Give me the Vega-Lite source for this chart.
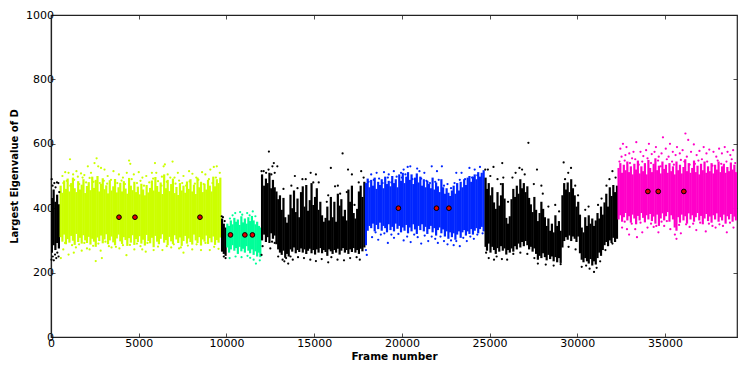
{"$schema":"https://vega.github.io/schema/vega-lite/v6.json","width":686,"height":322,"autosize":"none","padding":{"left":51,"top":15,"right":10,"bottom":37},"background":"white","view":{"stroke":"#222","strokeWidth":1.2},
"datasets":{"core":[
{"f":50,"lo":262,"hi":432,"s":"K"},{"f":150,"lo":285,"hi":458,"s":"K"},{"f":250,"lo":270,"hi":420,"s":"K"},{"f":350,"lo":292,"hi":442,"s":"K"},{"f":450,"lo":275,"hi":412,"s":"K"},
{"f":550,"lo":310,"hi":470,"s":"L"},{"f":650,"lo":296,"hi":448,"s":"L"},{"f":750,"lo":318,"hi":486,"s":"L"},{"f":850,"lo":288,"hi":460,"s":"L"},{"f":950,"lo":304,"hi":492,"s":"L"},{"f":1050,"lo":293,"hi":452,"s":"L"},{"f":1150,"lo":314,"hi":478,"s":"L"},{"f":1250,"lo":299,"hi":495,"s":"L"},{"f":1350,"lo":286,"hi":462,"s":"L"},{"f":1450,"lo":320,"hi":450,"s":"L"},{"f":1550,"lo":295,"hi":484,"s":"L"},{"f":1650,"lo":308,"hi":458,"s":"L"},{"f":1750,"lo":290,"hi":473,"s":"L"},{"f":1850,"lo":316,"hi":490,"s":"L"},{"f":1950,"lo":300,"hi":447,"s":"L"},{"f":2050,"lo":292,"hi":469,"s":"L"},{"f":2150,"lo":311,"hi":481,"s":"L"},{"f":2250,"lo":287,"hi":456,"s":"L"},{"f":2350,"lo":305,"hi":498,"s":"L"},{"f":2450,"lo":296,"hi":463,"s":"L"},{"f":2550,"lo":280,"hi":488,"s":"L"},{"f":2650,"lo":309,"hi":500,"s":"L"},{"f":2750,"lo":298,"hi":452,"s":"L"},{"f":2850,"lo":315,"hi":476,"s":"L"},{"f":2950,"lo":291,"hi":493,"s":"L"},{"f":3050,"lo":303,"hi":459,"s":"L"},{"f":3150,"lo":319,"hi":471,"s":"L"},{"f":3250,"lo":288,"hi":446,"s":"L"},{"f":3350,"lo":300,"hi":487,"s":"L"},{"f":3450,"lo":312,"hi":455,"s":"L"},{"f":3550,"lo":294,"hi":468,"s":"L"},{"f":3650,"lo":285,"hi":491,"s":"L"},{"f":3750,"lo":306,"hi":449,"s":"L"},{"f":3850,"lo":318,"hi":465,"s":"L"},{"f":3950,"lo":297,"hi":479,"s":"L"},{"f":4050,"lo":289,"hi":452,"s":"L"},{"f":4150,"lo":310,"hi":484,"s":"L"},{"f":4250,"lo":301,"hi":461,"s":"L"},{"f":4350,"lo":283,"hi":445,"s":"L"},{"f":4450,"lo":307,"hi":494,"s":"L"},{"f":4550,"lo":293,"hi":470,"s":"L"},{"f":4650,"lo":316,"hi":456,"s":"L"},{"f":4750,"lo":286,"hi":482,"s":"L"},{"f":4850,"lo":304,"hi":450,"s":"L"},{"f":4950,"lo":295,"hi":467,"s":"L"},{"f":5050,"lo":313,"hi":443,"s":"L"},{"f":5150,"lo":290,"hi":476,"s":"L"},{"f":5250,"lo":302,"hi":458,"s":"L"},{"f":5350,"lo":284,"hi":440,"s":"L"},{"f":5450,"lo":317,"hi":472,"s":"L"},{"f":5550,"lo":298,"hi":449,"s":"L"},{"f":5650,"lo":291,"hi":463,"s":"L"},{"f":5750,"lo":308,"hi":486,"s":"L"},{"f":5850,"lo":279,"hi":455,"s":"L"},{"f":5950,"lo":314,"hi":497,"s":"L"},{"f":6050,"lo":296,"hi":469,"s":"L"},{"f":6150,"lo":288,"hi":451,"s":"L"},{"f":6250,"lo":305,"hi":480,"s":"L"},{"f":6350,"lo":319,"hi":444,"s":"L"},{"f":6450,"lo":293,"hi":505,"s":"L"},{"f":6550,"lo":301,"hi":462,"s":"L"},{"f":6650,"lo":285,"hi":488,"s":"L"},{"f":6750,"lo":311,"hi":453,"s":"L"},{"f":6850,"lo":297,"hi":475,"s":"L"},{"f":6950,"lo":289,"hi":492,"s":"L"},{"f":7050,"lo":316,"hi":447,"s":"L"},{"f":7150,"lo":303,"hi":466,"s":"L"},{"f":7250,"lo":292,"hi":441,"s":"L"},{"f":7350,"lo":309,"hi":478,"s":"L"},{"f":7450,"lo":283,"hi":455,"s":"L"},{"f":7550,"lo":298,"hi":470,"s":"L"},{"f":7650,"lo":314,"hi":448,"s":"L"},{"f":7750,"lo":290,"hi":483,"s":"L"},{"f":7850,"lo":306,"hi":460,"s":"L"},{"f":7950,"lo":295,"hi":490,"s":"L"},{"f":8050,"lo":287,"hi":452,"s":"L"},{"f":8150,"lo":318,"hi":473,"s":"L"},{"f":8250,"lo":300,"hi":444,"s":"L"},{"f":8350,"lo":292,"hi":495,"s":"L"},{"f":8450,"lo":310,"hi":465,"s":"L"},{"f":8550,"lo":284,"hi":482,"s":"L"},{"f":8650,"lo":303,"hi":450,"s":"L"},{"f":8750,"lo":296,"hi":476,"s":"L"},{"f":8850,"lo":315,"hi":458,"s":"L"},{"f":8950,"lo":289,"hi":488,"s":"L"},{"f":9050,"lo":307,"hi":470,"s":"L"},{"f":9150,"lo":294,"hi":452,"s":"L"},{"f":9250,"lo":312,"hi":498,"s":"L"},{"f":9350,"lo":286,"hi":468,"s":"L"},{"f":9450,"lo":301,"hi":490,"s":"L"},{"f":9550,"lo":293,"hi":478,"s":"L"},{"f":9650,"lo":309,"hi":495,"s":"L"},
{"f":9750,"lo":265,"hi":368,"s":"K"},{"f":9850,"lo":258,"hi":352,"s":"K"},{"f":9950,"lo":252,"hi":340,"s":"K"},
{"f":10050,"lo":278,"hi":352,"s":"G"},{"f":10150,"lo":262,"hi":345,"s":"G"},{"f":10250,"lo":272,"hi":362,"s":"G"},{"f":10350,"lo":285,"hi":350,"s":"G"},{"f":10450,"lo":268,"hi":370,"s":"G"},{"f":10550,"lo":276,"hi":358,"s":"G"},{"f":10650,"lo":258,"hi":365,"s":"G"},{"f":10750,"lo":280,"hi":348,"s":"G"},{"f":10850,"lo":266,"hi":375,"s":"G"},{"f":10950,"lo":274,"hi":356,"s":"G"},{"f":11050,"lo":262,"hi":368,"s":"G"},{"f":11150,"lo":282,"hi":352,"s":"G"},{"f":11250,"lo":268,"hi":372,"s":"G"},{"f":11350,"lo":260,"hi":360,"s":"G"},{"f":11450,"lo":272,"hi":376,"s":"G"},{"f":11550,"lo":255,"hi":362,"s":"G"},{"f":11650,"lo":266,"hi":350,"s":"G"},{"f":11750,"lo":250,"hi":358,"s":"G"},{"f":11850,"lo":262,"hi":345,"s":"G"},{"f":11930,"lo":248,"hi":340,"s":"G"},
{"f":12030,"lo":300,"hi":505,"s":"K"},{"f":12150,"lo":318,"hi":470,"s":"K"},{"f":12250,"lo":295,"hi":492,"s":"K"},{"f":12350,"lo":310,"hi":478,"s":"K"},{"f":12450,"lo":292,"hi":510,"s":"K"},{"f":12550,"lo":322,"hi":462,"s":"K"},{"f":12650,"lo":305,"hi":488,"s":"K"},{"f":12750,"lo":315,"hi":465,"s":"K"},{"f":12850,"lo":288,"hi":452,"s":"K"},{"f":12950,"lo":272,"hi":428,"s":"K"},{"f":13050,"lo":262,"hi":440,"s":"K"},{"f":13150,"lo":255,"hi":395,"s":"K"},{"f":13250,"lo":268,"hi":432,"s":"K"},{"f":13350,"lo":246,"hi":372,"s":"K"},{"f":13450,"lo":258,"hi":355,"s":"K"},{"f":13550,"lo":250,"hi":380,"s":"K"},{"f":13650,"lo":272,"hi":442,"s":"K"},{"f":13750,"lo":265,"hi":400,"s":"K"},{"f":13850,"lo":278,"hi":455,"s":"K"},{"f":13950,"lo":260,"hi":388,"s":"K"},{"f":14050,"lo":270,"hi":430,"s":"K"},{"f":14150,"lo":264,"hi":372,"s":"K"},{"f":14250,"lo":275,"hi":450,"s":"K"},{"f":14350,"lo":262,"hi":468,"s":"K"},{"f":14450,"lo":272,"hi":405,"s":"K"},{"f":14550,"lo":258,"hi":472,"s":"K"},{"f":14650,"lo":268,"hi":392,"s":"K"},{"f":14750,"lo":274,"hi":425,"s":"K"},{"f":14850,"lo":260,"hi":478,"s":"K"},{"f":14950,"lo":270,"hi":410,"s":"K"},{"f":15050,"lo":256,"hi":435,"s":"K"},{"f":15150,"lo":272,"hi":462,"s":"K"},{"f":15250,"lo":262,"hi":395,"s":"K"},{"f":15350,"lo":276,"hi":420,"s":"K"},{"f":15450,"lo":260,"hi":378,"s":"K"},{"f":15550,"lo":270,"hi":358,"s":"K"},{"f":15650,"lo":264,"hi":370,"s":"K"},{"f":15750,"lo":252,"hi":405,"s":"K"},{"f":15850,"lo":272,"hi":362,"s":"K"},{"f":15950,"lo":266,"hi":435,"s":"K"},{"f":16050,"lo":258,"hi":372,"s":"K"},{"f":16150,"lo":270,"hi":420,"s":"K"},{"f":16250,"lo":262,"hi":358,"s":"K"},{"f":16350,"lo":274,"hi":445,"s":"K"},{"f":16450,"lo":256,"hi":408,"s":"K"},{"f":16550,"lo":268,"hi":428,"s":"K"},{"f":16650,"lo":276,"hi":375,"s":"K"},{"f":16750,"lo":262,"hi":395,"s":"K"},{"f":16850,"lo":270,"hi":362,"s":"K"},{"f":16950,"lo":258,"hi":458,"s":"K"},{"f":17050,"lo":272,"hi":420,"s":"K"},{"f":17150,"lo":264,"hi":470,"s":"K"},{"f":17250,"lo":276,"hi":385,"s":"K"},{"f":17350,"lo":262,"hi":368,"s":"K"},{"f":17450,"lo":270,"hi":398,"s":"K"},{"f":17550,"lo":258,"hi":452,"s":"K"},{"f":17650,"lo":274,"hi":470,"s":"K"},{"f":17750,"lo":266,"hi":435,"s":"K"},{"f":17860,"lo":278,"hi":482,"s":"K"},
{"f":17950,"lo":285,"hi":478,"s":"B"},{"f":18050,"lo":330,"hi":492,"s":"B"},{"f":18150,"lo":345,"hi":465,"s":"B"},{"f":18250,"lo":338,"hi":488,"s":"B"},{"f":18350,"lo":352,"hi":470,"s":"B"},{"f":18450,"lo":328,"hi":495,"s":"B"},{"f":18550,"lo":348,"hi":460,"s":"B"},{"f":18650,"lo":335,"hi":482,"s":"B"},{"f":18750,"lo":355,"hi":472,"s":"B"},{"f":18850,"lo":330,"hi":490,"s":"B"},{"f":18950,"lo":345,"hi":462,"s":"B"},{"f":19050,"lo":338,"hi":498,"s":"B"},{"f":19150,"lo":325,"hi":475,"s":"B"},{"f":19250,"lo":350,"hi":485,"s":"B"},{"f":19350,"lo":332,"hi":468,"s":"B"},{"f":19450,"lo":342,"hi":500,"s":"B"},{"f":19550,"lo":328,"hi":478,"s":"B"},{"f":19650,"lo":352,"hi":490,"s":"B"},{"f":19750,"lo":336,"hi":465,"s":"B"},{"f":19850,"lo":345,"hi":505,"s":"B"},{"f":19950,"lo":325,"hi":485,"s":"B"},{"f":20050,"lo":340,"hi":510,"s":"B"},{"f":20150,"lo":330,"hi":478,"s":"B"},{"f":20250,"lo":348,"hi":498,"s":"B"},{"f":20350,"lo":322,"hi":512,"s":"B"},{"f":20450,"lo":340,"hi":488,"s":"B"},{"f":20550,"lo":328,"hi":505,"s":"B"},{"f":20650,"lo":350,"hi":475,"s":"B"},{"f":20750,"lo":334,"hi":495,"s":"B"},{"f":20850,"lo":320,"hi":508,"s":"B"},{"f":20950,"lo":345,"hi":480,"s":"B"},{"f":21050,"lo":332,"hi":498,"s":"B"},{"f":21150,"lo":350,"hi":470,"s":"B"},{"f":21250,"lo":328,"hi":490,"s":"B"},{"f":21350,"lo":342,"hi":465,"s":"B"},{"f":21450,"lo":320,"hi":485,"s":"B"},{"f":21550,"lo":335,"hi":475,"s":"B"},{"f":21650,"lo":345,"hi":462,"s":"B"},{"f":21750,"lo":325,"hi":495,"s":"B"},{"f":21850,"lo":338,"hi":458,"s":"B"},{"f":21950,"lo":315,"hi":480,"s":"B"},{"f":22050,"lo":332,"hi":468,"s":"B"},{"f":22150,"lo":340,"hi":450,"s":"B"},{"f":22250,"lo":322,"hi":490,"s":"B"},{"f":22350,"lo":334,"hi":465,"s":"B"},{"f":22450,"lo":312,"hi":445,"s":"B"},{"f":22550,"lo":328,"hi":462,"s":"B"},{"f":22650,"lo":305,"hi":448,"s":"B"},{"f":22750,"lo":325,"hi":438,"s":"B"},{"f":22850,"lo":310,"hi":455,"s":"B"},{"f":22950,"lo":322,"hi":470,"s":"B"},{"f":23050,"lo":302,"hi":445,"s":"B"},{"f":23150,"lo":318,"hi":478,"s":"B"},{"f":23250,"lo":328,"hi":455,"s":"B"},{"f":23350,"lo":308,"hi":482,"s":"B"},{"f":23450,"lo":325,"hi":465,"s":"B"},{"f":23550,"lo":332,"hi":490,"s":"B"},{"f":23650,"lo":315,"hi":472,"s":"B"},{"f":23750,"lo":328,"hi":495,"s":"B"},{"f":23850,"lo":320,"hi":500,"s":"B"},{"f":23950,"lo":335,"hi":482,"s":"B"},{"f":24050,"lo":318,"hi":498,"s":"B"},{"f":24150,"lo":330,"hi":505,"s":"B"},{"f":24250,"lo":338,"hi":490,"s":"B"},{"f":24350,"lo":322,"hi":512,"s":"B"},{"f":24450,"lo":335,"hi":498,"s":"B"},{"f":24550,"lo":342,"hi":510,"s":"B"},{"f":24660,"lo":328,"hi":518,"s":"B"},
{"f":24770,"lo":280,"hi":495,"s":"K"},{"f":24850,"lo":268,"hi":460,"s":"K"},{"f":24950,"lo":290,"hi":478,"s":"K"},{"f":25050,"lo":262,"hi":440,"s":"K"},{"f":25150,"lo":280,"hi":465,"s":"K"},{"f":25250,"lo":270,"hi":418,"s":"K"},{"f":25350,"lo":258,"hi":398,"s":"K"},{"f":25450,"lo":276,"hi":450,"s":"K"},{"f":25550,"lo":265,"hi":408,"s":"K"},{"f":25650,"lo":282,"hi":440,"s":"K"},{"f":25750,"lo":268,"hi":478,"s":"K"},{"f":25850,"lo":275,"hi":430,"s":"K"},{"f":25950,"lo":256,"hi":370,"s":"K"},{"f":26050,"lo":270,"hi":352,"s":"K"},{"f":26150,"lo":262,"hi":375,"s":"K"},{"f":26250,"lo":275,"hi":428,"s":"K"},{"f":26350,"lo":265,"hi":460,"s":"K"},{"f":26450,"lo":282,"hi":435,"s":"K"},{"f":26550,"lo":272,"hi":470,"s":"K"},{"f":26650,"lo":290,"hi":445,"s":"K"},{"f":26750,"lo":278,"hi":490,"s":"K"},{"f":26850,"lo":295,"hi":462,"s":"K"},{"f":26950,"lo":282,"hi":478,"s":"K"},{"f":27050,"lo":298,"hi":450,"s":"K"},{"f":27150,"lo":285,"hi":468,"s":"K"},{"f":27250,"lo":272,"hi":432,"s":"K"},{"f":27350,"lo":280,"hi":412,"s":"K"},{"f":27450,"lo":265,"hi":388,"s":"K"},{"f":27550,"lo":275,"hi":435,"s":"K"},{"f":27650,"lo":258,"hi":395,"s":"K"},{"f":27750,"lo":240,"hi":360,"s":"K"},{"f":27850,"lo":252,"hi":385,"s":"K"},{"f":27950,"lo":245,"hi":420,"s":"K"},{"f":28050,"lo":260,"hi":398,"s":"K"},{"f":28150,"lo":248,"hi":372,"s":"K"},{"f":28250,"lo":238,"hi":345,"s":"K"},{"f":28350,"lo":255,"hi":368,"s":"K"},{"f":28450,"lo":242,"hi":330,"s":"K"},{"f":28550,"lo":250,"hi":352,"s":"K"},{"f":28650,"lo":235,"hi":325,"s":"K"},{"f":28750,"lo":248,"hi":378,"s":"K"},{"f":28850,"lo":232,"hi":345,"s":"K"},{"f":28950,"lo":245,"hi":360,"s":"K"},{"f":29050,"lo":230,"hi":330,"s":"K"},{"f":29150,"lo":278,"hi":440,"s":"K"},{"f":29250,"lo":298,"hi":478,"s":"K"},{"f":29350,"lo":310,"hi":458,"s":"K"},{"f":29450,"lo":302,"hi":480,"s":"K"},{"f":29550,"lo":315,"hi":450,"s":"K"},{"f":29650,"lo":298,"hi":490,"s":"K"},{"f":29750,"lo":312,"hi":462,"s":"K"},{"f":29850,"lo":305,"hi":440,"s":"K"},{"f":29950,"lo":295,"hi":405,"s":"K"},{"f":30050,"lo":312,"hi":420,"s":"K"},{"f":30150,"lo":260,"hi":380,"s":"K"},{"f":30250,"lo":240,"hi":340,"s":"K"},{"f":30350,"lo":232,"hi":325,"s":"K"},{"f":30450,"lo":245,"hi":372,"s":"K"},{"f":30550,"lo":235,"hi":345,"s":"K"},{"f":30650,"lo":228,"hi":378,"s":"K"},{"f":30750,"lo":242,"hi":352,"s":"K"},{"f":30850,"lo":222,"hi":368,"s":"K"},{"f":30950,"lo":235,"hi":345,"s":"K"},{"f":31050,"lo":225,"hi":362,"s":"K"},{"f":31150,"lo":245,"hi":385,"s":"K"},{"f":31250,"lo":262,"hi":368,"s":"K"},{"f":31350,"lo":252,"hi":405,"s":"K"},{"f":31450,"lo":270,"hi":380,"s":"K"},{"f":31550,"lo":285,"hi":418,"s":"K"},{"f":31650,"lo":295,"hi":445,"s":"K"},{"f":31750,"lo":282,"hi":405,"s":"K"},{"f":31850,"lo":300,"hi":465,"s":"K"},{"f":31950,"lo":292,"hi":438,"s":"K"},{"f":32050,"lo":308,"hi":472,"s":"K"},{"f":32150,"lo":295,"hi":450,"s":"K"},{"f":32260,"lo":305,"hi":470,"s":"K"},
{"f":32350,"lo":365,"hi":525,"s":"M"},{"f":32450,"lo":378,"hi":540,"s":"M"},{"f":32550,"lo":358,"hi":510,"s":"M"},{"f":32650,"lo":372,"hi":535,"s":"M"},{"f":32750,"lo":385,"hi":518,"s":"M"},{"f":32850,"lo":362,"hi":545,"s":"M"},{"f":32950,"lo":375,"hi":512,"s":"M"},{"f":33050,"lo":355,"hi":530,"s":"M"},{"f":33150,"lo":380,"hi":505,"s":"M"},{"f":33250,"lo":368,"hi":538,"s":"M"},{"f":33350,"lo":350,"hi":520,"s":"M"},{"f":33450,"lo":376,"hi":548,"s":"M"},{"f":33550,"lo":362,"hi":508,"s":"M"},{"f":33650,"lo":385,"hi":530,"s":"M"},{"f":33750,"lo":370,"hi":515,"s":"M"},{"f":33850,"lo":356,"hi":540,"s":"M"},{"f":33950,"lo":378,"hi":505,"s":"M"},{"f":34050,"lo":365,"hi":550,"s":"M"},{"f":34150,"lo":382,"hi":525,"s":"M"},{"f":34250,"lo":360,"hi":512,"s":"M"},{"f":34350,"lo":374,"hi":538,"s":"M"},{"f":34450,"lo":352,"hi":555,"s":"M"},{"f":34550,"lo":380,"hi":518,"s":"M"},{"f":34650,"lo":345,"hi":532,"s":"M"},{"f":34750,"lo":368,"hi":508,"s":"M"},{"f":34850,"lo":384,"hi":545,"s":"M"},{"f":34950,"lo":362,"hi":522,"s":"M"},{"f":35050,"lo":375,"hi":535,"s":"M"},{"f":35150,"lo":388,"hi":510,"s":"M"},{"f":35250,"lo":358,"hi":540,"s":"M"},{"f":35350,"lo":378,"hi":515,"s":"M"},{"f":35450,"lo":365,"hi":530,"s":"M"},{"f":35550,"lo":340,"hi":505,"s":"M"},{"f":35650,"lo":330,"hi":545,"s":"M"},{"f":35750,"lo":372,"hi":518,"s":"M"},{"f":35850,"lo":355,"hi":535,"s":"M"},{"f":35950,"lo":380,"hi":508,"s":"M"},{"f":36050,"lo":362,"hi":528,"s":"M"},{"f":36150,"lo":375,"hi":552,"s":"M"},{"f":36250,"lo":352,"hi":515,"s":"M"},{"f":36350,"lo":384,"hi":540,"s":"M"},{"f":36450,"lo":365,"hi":510,"s":"M"},{"f":36550,"lo":378,"hi":525,"s":"M"},{"f":36650,"lo":358,"hi":548,"s":"M"},{"f":36750,"lo":372,"hi":512,"s":"M"},{"f":36850,"lo":385,"hi":532,"s":"M"},{"f":36950,"lo":362,"hi":505,"s":"M"},{"f":37050,"lo":376,"hi":538,"s":"M"},{"f":37150,"lo":350,"hi":518,"s":"M"},{"f":37250,"lo":368,"hi":545,"s":"M"},{"f":37350,"lo":382,"hi":510,"s":"M"},{"f":37450,"lo":360,"hi":530,"s":"M"},{"f":37550,"lo":374,"hi":515,"s":"M"},{"f":37650,"lo":355,"hi":540,"s":"M"},{"f":37750,"lo":378,"hi":508,"s":"M"},{"f":37850,"lo":365,"hi":535,"s":"M"},{"f":37950,"lo":384,"hi":520,"s":"M"},{"f":38050,"lo":358,"hi":545,"s":"M"},{"f":38150,"lo":372,"hi":512,"s":"M"},{"f":38250,"lo":362,"hi":530,"s":"M"},{"f":38350,"lo":380,"hi":538,"s":"M"},{"f":38450,"lo":352,"hi":510,"s":"M"},{"f":38550,"lo":375,"hi":528,"s":"M"},{"f":38650,"lo":365,"hi":515,"s":"M"},{"f":38750,"lo":382,"hi":542,"s":"M"},{"f":38850,"lo":358,"hi":520,"s":"M"},{"f":38950,"lo":374,"hi":535,"s":"M"},{"f":39040,"lo":362,"hi":512,"s":"M"}
],
"dots":[
{"f":40,"v":490,"s":"K"},{"f":90,"v":470,"s":"K"},{"f":190,"v":478,"s":"K"},{"f":260,"v":465,"s":"K"},{"f":340,"v":480,"s":"K"},{"f":420,"v":478,"s":"K"},{"f":470,"v":450,"s":"K"},{"f":30,"v":240,"s":"K"},{"f":100,"v":250,"s":"K"},{"f":160,"v":238,"s":"K"},{"f":230,"v":256,"s":"K"},{"f":300,"v":245,"s":"K"},{"f":360,"v":262,"s":"K"},{"f":430,"v":250,"s":"K"},
{"f":650,"v":500,"s":"L"},{"f":810,"v":512,"s":"L"},{"f":1000,"v":510,"s":"L"},{"f":1083,"v":552,"s":"L"},{"f":1260,"v":505,"s":"L"},{"f":1450,"v":515,"s":"L"},{"f":1530,"v":498,"s":"L"},{"f":1710,"v":508,"s":"L"},{"f":1900,"v":503,"s":"L"},{"f":2100,"v":530,"s":"L"},{"f":2280,"v":510,"s":"L"},{"f":2480,"v":540,"s":"L"},{"f":2600,"v":555,"s":"L"},{"f":2690,"v":530,"s":"L"},{"f":2850,"v":525,"s":"L"},{"f":3050,"v":520,"s":"L"},{"f":3230,"v":500,"s":"L"},{"f":3560,"v":515,"s":"L"},{"f":3870,"v":505,"s":"L"},{"f":4100,"v":495,"s":"L"},{"f":4320,"v":510,"s":"L"},{"f":4450,"v":548,"s":"L"},{"f":4520,"v":538,"s":"L"},{"f":4720,"v":505,"s":"L"},{"f":5000,"v":512,"s":"L"},{"f":5210,"v":495,"s":"L"},{"f":5430,"v":500,"s":"L"},{"f":5750,"v":510,"s":"L"},{"f":5926,"v":540,"s":"L"},{"f":6000,"v":510,"s":"L"},{"f":6320,"v":498,"s":"L"},{"f":6420,"v":530,"s":"L"},{"f":6490,"v":536,"s":"L"},{"f":6650,"v":505,"s":"L"},{"f":6930,"v":545,"s":"L"},{"f":7040,"v":495,"s":"L"},{"f":7230,"v":510,"s":"L"},{"f":7550,"v":500,"s":"L"},{"f":7870,"v":515,"s":"L"},{"f":8060,"v":507,"s":"L"},{"f":8280,"v":495,"s":"L"},{"f":8610,"v":512,"s":"L"},{"f":8800,"v":505,"s":"L"},{"f":9080,"v":520,"s":"L"},{"f":9280,"v":528,"s":"L"},{"f":9450,"v":530,"s":"L"},{"f":9620,"v":510,"s":"L"},
{"f":700,"v":478,"s":"L"},{"f":900,"v":485,"s":"L"},{"f":1100,"v":470,"s":"L"},{"f":1320,"v":488,"s":"L"},{"f":1610,"v":475,"s":"L"},{"f":1800,"v":495,"s":"L"},{"f":2000,"v":480,"s":"L"},{"f":2200,"v":494,"s":"L"},{"f":2420,"v":482,"s":"L"},{"f":2780,"v":478,"s":"L"},{"f":3010,"v":485,"s":"L"},{"f":3200,"v":476,"s":"L"},{"f":3420,"v":488,"s":"L"},{"f":3780,"v":478,"s":"L"},{"f":4020,"v":486,"s":"L"},{"f":4220,"v":475,"s":"L"},{"f":4600,"v":490,"s":"L"},{"f":4900,"v":478,"s":"L"},{"f":5100,"v":485,"s":"L"},{"f":5300,"v":470,"s":"L"},{"f":5600,"v":480,"s":"L"},{"f":5820,"v":492,"s":"L"},{"f":6100,"v":484,"s":"L"},{"f":6300,"v":470,"s":"L"},{"f":6600,"v":482,"s":"L"},{"f":6800,"v":495,"s":"L"},{"f":7100,"v":476,"s":"L"},{"f":7300,"v":486,"s":"L"},{"f":7480,"v":478,"s":"L"},{"f":7700,"v":470,"s":"L"},{"f":7900,"v":483,"s":"L"},{"f":8200,"v":476,"s":"L"},{"f":8400,"v":488,"s":"L"},{"f":8700,"v":475,"s":"L"},{"f":9000,"v":490,"s":"L"},{"f":9200,"v":478,"s":"L"},{"f":9400,"v":495,"s":"L"},
{"f":560,"v":245,"s":"L"},{"f":700,"v":272,"s":"L"},{"f":1000,"v":256,"s":"L"},{"f":1300,"v":262,"s":"L"},{"f":1420,"v":278,"s":"L"},{"f":1750,"v":268,"s":"L"},{"f":2050,"v":275,"s":"L"},{"f":2200,"v":272,"s":"L"},{"f":2550,"v":236,"s":"L"},{"f":2830,"v":268,"s":"L"},{"f":2900,"v":245,"s":"L"},{"f":3450,"v":278,"s":"L"},{"f":3900,"v":275,"s":"L"},{"f":4300,"v":254,"s":"L"},{"f":4750,"v":272,"s":"L"},{"f":5200,"v":272,"s":"L"},{"f":5400,"v":265,"s":"L"},{"f":5850,"v":270,"s":"L"},{"f":6350,"v":270,"s":"L"},{"f":6850,"v":278,"s":"L"},{"f":7300,"v":275,"s":"L"},{"f":7550,"v":262,"s":"L"},{"f":8050,"v":272,"s":"L"},{"f":8550,"v":270,"s":"L"},{"f":9050,"v":270,"s":"L"},{"f":9550,"v":274,"s":"L"},
{"f":800,"v":292,"s":"L"},{"f":1200,"v":285,"s":"L"},{"f":1600,"v":288,"s":"L"},{"f":1900,"v":292,"s":"L"},{"f":2400,"v":283,"s":"L"},{"f":2700,"v":290,"s":"L"},{"f":3100,"v":296,"s":"L"},{"f":3300,"v":282,"s":"L"},{"f":3700,"v":280,"s":"L"},{"f":4100,"v":285,"s":"L"},{"f":4500,"v":286,"s":"L"},{"f":4900,"v":290,"s":"L"},{"f":5100,"v":282,"s":"L"},{"f":5500,"v":292,"s":"L"},{"f":6100,"v":281,"s":"L"},{"f":6600,"v":282,"s":"L"},{"f":7000,"v":288,"s":"L"},{"f":7400,"v":278,"s":"L"},{"f":7800,"v":284,"s":"L"},{"f":8300,"v":288,"s":"L"},{"f":8800,"v":292,"s":"L"},{"f":9300,"v":280,"s":"L"},
{"f":9730,"v":375,"s":"K"},{"f":9800,"v":372,"s":"K"},{"f":9900,"v":360,"s":"K"},{"f":9850,"v":250,"s":"K"},{"f":9950,"v":245,"s":"K"},
{"f":10200,"v":368,"s":"G"},{"f":10350,"v":378,"s":"G"},{"f":10500,"v":385,"s":"G"},{"f":10780,"v":388,"s":"G"},{"f":10900,"v":380,"s":"G"},{"f":11180,"v":385,"s":"G"},{"f":11320,"v":378,"s":"G"},{"f":11500,"v":390,"s":"G"},{"f":11650,"v":375,"s":"G"},{"f":10180,"v":245,"s":"G"},{"f":10520,"v":250,"s":"G"},{"f":10860,"v":248,"s":"G"},{"f":11200,"v":252,"s":"G"},{"f":11350,"v":246,"s":"G"},{"f":11550,"v":240,"s":"G"},{"f":11680,"v":228,"s":"G"},{"f":11900,"v":238,"s":"G"},
{"f":12000,"v":515,"s":"K"},{"f":12120,"v":515,"s":"K"},{"f":12260,"v":510,"s":"K"},{"f":12400,"v":520,"s":"K"},{"f":12420,"v":576,"s":"K"},{"f":12560,"v":505,"s":"K"},{"f":12620,"v":530,"s":"K"},{"f":12700,"v":540,"s":"K"},{"f":12750,"v":510,"s":"K"},{"f":12900,"v":530,"s":"K"},{"f":12000,"v":255,"s":"K"},{"f":12060,"v":282,"s":"K"},{"f":12500,"v":275,"s":"K"},{"f":12600,"v":296,"s":"K"},{"f":12750,"v":292,"s":"K"},{"f":12950,"v":250,"s":"K"},
{"f":13250,"v":460,"s":"K"},{"f":13700,"v":470,"s":"K"},{"f":13900,"v":500,"s":"K"},{"f":14050,"v":462,"s":"K"},{"f":14330,"v":490,"s":"K"},{"f":14520,"v":490,"s":"K"},{"f":14800,"v":510,"s":"K"},{"f":14950,"v":480,"s":"K"},{"f":15100,"v":505,"s":"K"},{"f":15260,"v":480,"s":"K"},{"f":15720,"v":420,"s":"K"},{"f":15800,"v":440,"s":"K"},{"f":15950,"v":525,"s":"K"},{"f":16190,"v":468,"s":"K"},{"f":16350,"v":470,"s":"K"},{"f":16480,"v":445,"s":"K"},{"f":16620,"v":570,"s":"K"},{"f":16860,"v":450,"s":"K"},{"f":16930,"v":520,"s":"K"},{"f":17150,"v":505,"s":"K"},{"f":17300,"v":410,"s":"K"},{"f":17540,"v":480,"s":"K"},{"f":17680,"v":515,"s":"K"},{"f":17820,"v":495,"s":"K"},
{"f":13200,"v":240,"s":"K"},{"f":13300,"v":235,"s":"K"},{"f":13400,"v":245,"s":"K"},{"f":13520,"v":228,"s":"K"},{"f":13650,"v":250,"s":"K"},{"f":13780,"v":240,"s":"K"},{"f":14080,"v":248,"s":"K"},{"f":14420,"v":245,"s":"K"},{"f":14780,"v":240,"s":"K"},{"f":15100,"v":236,"s":"K"},{"f":15430,"v":242,"s":"K"},{"f":15800,"v":232,"s":"K"},{"f":15980,"v":248,"s":"K"},{"f":16330,"v":240,"s":"K"},{"f":16700,"v":238,"s":"K"},{"f":17050,"v":245,"s":"K"},{"f":17420,"v":248,"s":"K"},{"f":17600,"v":240,"s":"K"},
{"f":18250,"v":505,"s":"B"},{"f":18560,"v":510,"s":"B"},{"f":18980,"v":512,"s":"B"},{"f":19250,"v":505,"s":"B"},{"f":19540,"v":515,"s":"B"},{"f":19950,"v":510,"s":"B"},{"f":20100,"v":520,"s":"B"},{"f":20330,"v":528,"s":"B"},{"f":20480,"v":530,"s":"B"},{"f":20870,"v":523,"s":"B"},{"f":21000,"v":515,"s":"B"},{"f":21280,"v":510,"s":"B"},{"f":21700,"v":530,"s":"B"},{"f":22000,"v":515,"s":"B"},{"f":22280,"v":530,"s":"B"},{"f":23100,"v":510,"s":"B"},{"f":23400,"v":510,"s":"B"},{"f":23850,"v":525,"s":"B"},{"f":24150,"v":520,"s":"B"},{"f":24450,"v":528,"s":"B"},
{"f":18100,"v":482,"s":"B"},{"f":18400,"v":488,"s":"B"},{"f":18700,"v":492,"s":"B"},{"f":18900,"v":478,"s":"B"},{"f":19200,"v":495,"s":"B"},{"f":19400,"v":480,"s":"B"},{"f":19700,"v":498,"s":"B"},{"f":20000,"v":495,"s":"B"},{"f":20200,"v":505,"s":"B"},{"f":20600,"v":490,"s":"B"},{"f":21100,"v":492,"s":"B"},{"f":21400,"v":485,"s":"B"},{"f":21600,"v":478,"s":"B"},{"f":21900,"v":482,"s":"B"},{"f":22100,"v":488,"s":"B"},{"f":22400,"v":470,"s":"B"},{"f":22600,"v":475,"s":"B"},{"f":22800,"v":462,"s":"B"},{"f":23000,"v":478,"s":"B"},{"f":23300,"v":488,"s":"B"},{"f":23600,"v":490,"s":"B"},{"f":24000,"v":495,"s":"B"},{"f":24300,"v":502,"s":"B"},
{"f":17950,"v":270,"s":"B"},{"f":18000,"v":255,"s":"B"},{"f":18300,"v":310,"s":"B"},{"f":18650,"v":302,"s":"B"},{"f":19200,"v":292,"s":"B"},{"f":19550,"v":308,"s":"B"},{"f":20100,"v":300,"s":"B"},{"f":20500,"v":295,"s":"B"},{"f":21100,"v":290,"s":"B"},{"f":21500,"v":298,"s":"B"},{"f":21900,"v":305,"s":"B"},{"f":22050,"v":292,"s":"B"},{"f":22600,"v":288,"s":"B"},{"f":22950,"v":285,"s":"B"},{"f":23300,"v":282,"s":"B"},{"f":23700,"v":298,"s":"B"},{"f":24100,"v":305,"s":"B"},
{"f":18500,"v":325,"s":"B"},{"f":18800,"v":318,"s":"B"},{"f":19000,"v":322,"s":"B"},{"f":19400,"v":318,"s":"B"},{"f":19800,"v":320,"s":"B"},{"f":20300,"v":312,"s":"B"},{"f":20700,"v":318,"s":"B"},{"f":20900,"v":310,"s":"B"},{"f":21300,"v":315,"s":"B"},{"f":21700,"v":312,"s":"B"},{"f":22200,"v":312,"s":"B"},{"f":22400,"v":298,"s":"B"},{"f":22800,"v":300,"s":"B"},{"f":23100,"v":298,"s":"B"},{"f":23500,"v":308,"s":"B"},{"f":23900,"v":312,"s":"B"},{"f":24300,"v":318,"s":"B"},{"f":24600,"v":322,"s":"B"},
{"f":24750,"v":520,"s":"K"},{"f":24900,"v":520,"s":"K"},{"f":25040,"v":500,"s":"K"},{"f":25220,"v":528,"s":"K"},{"f":25450,"v":490,"s":"K"},{"f":25640,"v":475,"s":"K"},{"f":25720,"v":540,"s":"K"},{"f":25780,"v":495,"s":"K"},{"f":26050,"v":420,"s":"K"},{"f":26300,"v":495,"s":"K"},{"f":26480,"v":510,"s":"K"},{"f":26700,"v":525,"s":"K"},{"f":26850,"v":520,"s":"K"},{"f":27000,"v":505,"s":"K"},{"f":27210,"v":603,"s":"K"},{"f":27520,"v":475,"s":"K"},{"f":27700,"v":520,"s":"K"},{"f":27950,"v":470,"s":"K"},{"f":28030,"v":445,"s":"K"},{"f":28350,"v":405,"s":"K"},{"f":28740,"v":410,"s":"K"},{"f":28960,"v":390,"s":"K"},{"f":29220,"v":542,"s":"K"},{"f":29300,"v":490,"s":"K"},{"f":29480,"v":510,"s":"K"},{"f":29640,"v":525,"s":"K"},{"f":29880,"v":470,"s":"K"},{"f":30040,"v":440,"s":"K"},{"f":30450,"v":395,"s":"K"},{"f":30640,"v":405,"s":"K"},{"f":31180,"v":410,"s":"K"},{"f":31380,"v":430,"s":"K"},{"f":31660,"v":470,"s":"K"},{"f":31830,"v":490,"s":"K"},{"f":32000,"v":515,"s":"K"},{"f":32180,"v":495,"s":"K"},
{"f":24800,"v":262,"s":"K"},{"f":24950,"v":245,"s":"K"},{"f":25250,"v":240,"s":"K"},{"f":25400,"v":250,"s":"K"},{"f":25700,"v":242,"s":"K"},{"f":26000,"v":240,"s":"K"},{"f":26350,"v":258,"s":"K"},{"f":26750,"v":262,"s":"K"},{"f":27150,"v":258,"s":"K"},{"f":27550,"v":245,"s":"K"},{"f":27750,"v":228,"s":"K"},{"f":28200,"v":225,"s":"K"},{"f":28650,"v":222,"s":"K"},{"f":29050,"v":226,"s":"K"},{"f":29500,"v":280,"s":"K"},{"f":29900,"v":272,"s":"K"},{"f":30250,"v":218,"s":"K"},{"f":30500,"v":222,"s":"K"},{"f":30700,"v":212,"s":"K"},{"f":30950,"v":202,"s":"K"},{"f":31100,"v":215,"s":"K"},{"f":31300,"v":235,"s":"K"},{"f":31600,"v":270,"s":"K"},{"f":32000,"v":290,"s":"K"},
{"f":32450,"v":585,"s":"M"},{"f":32520,"v":560,"s":"M"},{"f":32600,"v":600,"s":"M"},{"f":32740,"v":565,"s":"M"},{"f":32800,"v":590,"s":"M"},{"f":32960,"v":570,"s":"M"},{"f":33120,"v":555,"s":"M"},{"f":33200,"v":575,"s":"M"},{"f":33360,"v":605,"s":"M"},{"f":33600,"v":575,"s":"M"},{"f":33760,"v":562,"s":"M"},{"f":33920,"v":580,"s":"M"},{"f":34080,"v":600,"s":"M"},{"f":34240,"v":568,"s":"M"},{"f":34400,"v":575,"s":"M"},{"f":34480,"v":590,"s":"M"},{"f":34640,"v":560,"s":"M"},{"f":34800,"v":570,"s":"M"},{"f":34880,"v":620,"s":"M"},{"f":35040,"v":585,"s":"M"},{"f":35200,"v":560,"s":"M"},{"f":35280,"v":600,"s":"M"},{"f":35440,"v":575,"s":"M"},{"f":35600,"v":565,"s":"M"},{"f":35680,"v":590,"s":"M"},{"f":35840,"v":570,"s":"M"},{"f":36000,"v":580,"s":"M"},{"f":36160,"v":632,"s":"M"},{"f":36240,"v":560,"s":"M"},{"f":36320,"v":612,"s":"M"},{"f":36480,"v":575,"s":"M"},{"f":36640,"v":598,"s":"M"},{"f":36800,"v":565,"s":"M"},{"f":36960,"v":578,"s":"M"},{"f":37200,"v":590,"s":"M"},{"f":37360,"v":570,"s":"M"},{"f":37520,"v":582,"s":"M"},{"f":37760,"v":575,"s":"M"},{"f":37920,"v":560,"s":"M"},{"f":38080,"v":585,"s":"M"},{"f":38240,"v":570,"s":"M"},{"f":38400,"v":590,"s":"M"},{"f":38560,"v":575,"s":"M"},{"f":38720,"v":565,"s":"M"},{"f":38880,"v":580,"s":"M"},
{"f":32400,"v":545,"s":"M"},{"f":32700,"v":548,"s":"M"},{"f":33000,"v":540,"s":"M"},{"f":33300,"v":552,"s":"M"},{"f":33500,"v":535,"s":"M"},{"f":33700,"v":545,"s":"M"},{"f":34000,"v":555,"s":"M"},{"f":34200,"v":540,"s":"M"},{"f":34600,"v":548,"s":"M"},{"f":34750,"v":530,"s":"M"},{"f":35100,"v":552,"s":"M"},{"f":35400,"v":545,"s":"M"},{"f":35500,"v":535,"s":"M"},{"f":35900,"v":550,"s":"M"},{"f":36100,"v":545,"s":"M"},{"f":36400,"v":535,"s":"M"},{"f":36700,"v":538,"s":"M"},{"f":36900,"v":548,"s":"M"},{"f":37100,"v":552,"s":"M"},{"f":37400,"v":545,"s":"M"},{"f":37700,"v":532,"s":"M"},{"f":38000,"v":548,"s":"M"},{"f":38200,"v":538,"s":"M"},{"f":38500,"v":545,"s":"M"},{"f":38800,"v":552,"s":"M"},{"f":39000,"v":540,"s":"M"},
{"f":32550,"v":340,"s":"M"},{"f":32830,"v":335,"s":"M"},{"f":32950,"v":318,"s":"M"},{"f":33300,"v":335,"s":"M"},{"f":33400,"v":310,"s":"M"},{"f":33700,"v":325,"s":"M"},{"f":34000,"v":340,"s":"M"},{"f":34350,"v":342,"s":"M"},{"f":34620,"v":325,"s":"M"},{"f":34950,"v":345,"s":"M"},{"f":35300,"v":335,"s":"M"},{"f":35560,"v":318,"s":"M"},{"f":35650,"v":305,"s":"M"},{"f":35900,"v":322,"s":"M"},{"f":36400,"v":342,"s":"M"},{"f":36780,"v":332,"s":"M"},{"f":37320,"v":328,"s":"M"},{"f":37880,"v":340,"s":"M"},{"f":38300,"v":345,"s":"M"},{"f":38520,"v":325,"s":"M"},{"f":38900,"v":340,"s":"M"},
{"f":32700,"v":358,"s":"M"},{"f":33100,"v":352,"s":"M"},{"f":33600,"v":355,"s":"M"},{"f":34200,"v":352,"s":"M"},{"f":34500,"v":345,"s":"M"},{"f":34800,"v":358,"s":"M"},{"f":35100,"v":360,"s":"M"},{"f":35800,"v":348,"s":"M"},{"f":36200,"v":350,"s":"M"},{"f":36600,"v":352,"s":"M"},{"f":37000,"v":355,"s":"M"},{"f":37500,"v":352,"s":"M"},{"f":37700,"v":345,"s":"M"},{"f":38100,"v":350,"s":"M"},{"f":38700,"v":355,"s":"M"}
],
"selected":[{"f":3875,"v":372},{"f":4786,"v":372},{"f":8490,"v":372},{"f":10230,"v":317},{"f":11050,"v":317},{"f":11480,"v":317},{"f":19800,"v":400},{"f":21970,"v":400},{"f":22680,"v":400},{"f":34020,"v":452},{"f":34610,"v":452},{"f":36070,"v":452}]},
"resolve":{"axis":{"x":"independent","y":"independent"}},
"layer":[
{"data":{"name":"core"},"mark":{"type":"bar","size":2.2,"clip":true},"encoding":{
"x":{"field":"f","type":"quantitative","scale":{"domain":[0,39100],"nice":false,"zero":false,"padding":0},"title":"Frame number","axis":{"values":[0,5000,10000,15000,20000,25000,30000,35000],"format":"d","grid":false,"domainColor":"#222","domainWidth":1.2,"tickColor":"#222","tickSize":-4,"tickWidth":0.8,"labelFont":"DejaVu Sans","labelFontSize":11,"labelColor":"#000","labelPadding":4,"labelFlush":false,"titleFont":"DejaVu Sans","titleFontSize":10.5,"titleFontWeight":"bold","titleColor":"#000","titlePadding":3}},
"y":{"field":"lo","type":"quantitative","scale":{"domain":[0,1000],"nice":false},"title":"Largest Eigenvalue of D","axis":{"values":[0,200,400,600,800,1000],"format":"d","grid":false,"domainColor":"#222","domainWidth":1.2,"tickColor":"#222","tickSize":-4,"tickWidth":0.8,"labelFont":"DejaVu Sans","labelFontSize":11,"labelColor":"#000","labelPadding":1.5,"titleFont":"DejaVu Sans","titleFontSize":10,"titleFontWeight":"bold","titleColor":"#000","titlePadding":6}},
"y2":{"field":"hi"},
"color":{"field":"s","type":"nominal","scale":{"domain":["K","L","G","B","M"],"range":["#000000","#ccff00","#00ff99","#0026ff","#ff00c8"]},"legend":null}}},
{"data":{"name":"dots"},"mark":{"type":"point","filled":true,"size":5,"opacity":1},"encoding":{
"x":{"field":"f","type":"quantitative","scale":{"domain":[0,39100],"nice":false,"zero":false,"padding":0},"axis":{"orient":"top","values":[0,5000,10000,15000,20000,25000,30000,35000],"labels":false,"title":null,"grid":false,"domain":false,"tickColor":"#222","tickSize":-4,"tickWidth":0.8}},
"y":{"field":"v","type":"quantitative","scale":{"domain":[0,1000],"nice":false},"axis":{"orient":"right","values":[0,200,400,600,800,1000],"labels":false,"title":null,"grid":false,"domain":false,"tickColor":"#222","tickSize":-4,"tickWidth":0.8}},
"color":{"field":"s","type":"nominal","scale":{"domain":["K","L","G","B","M"],"range":["#000000","#ccff00","#00ff99","#0026ff","#ff00c8"]},"legend":null}}},
{"data":{"name":"selected"},"mark":{"type":"point","filled":true,"size":22,"color":"#e00000","stroke":"#000","strokeWidth":1,"opacity":1},"encoding":{
"x":{"field":"f","type":"quantitative","scale":{"domain":[0,39100],"nice":false,"zero":false,"padding":0},"axis":null},
"y":{"field":"v","type":"quantitative","scale":{"domain":[0,1000],"nice":false},"axis":null}}}
]}
